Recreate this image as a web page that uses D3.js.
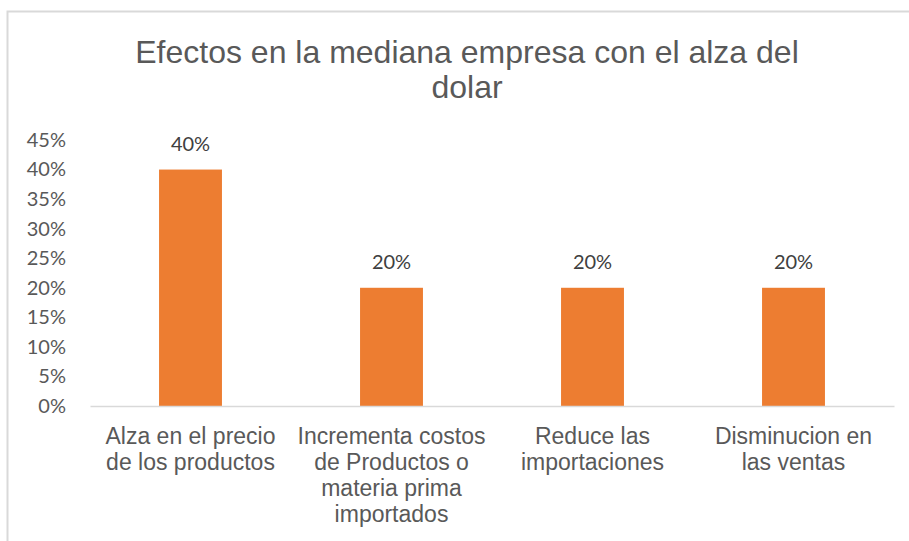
<!DOCTYPE html>
<html>
<head>
<meta charset="utf-8">
<script src="https://cdn.jsdelivr.net/npm/d3@7"></script>
<style>
  html, body { margin: 0; padding: 0; background: #fff; }
  svg { display: block; }
</style>
</head>
<body>
<svg id="chart" width="909" height="541"></svg>
<script>
const titleLines = ["Efectos en la mediana empresa con el alza del", "dolar"];
const categories = [
  ["Alza en el precio", "de los productos"],
  ["Incrementa costos", "de Productos o", "materia prima", "importados"],
  ["Reduce las", "importaciones"],
  ["Disminucion en", "las ventas"]
];
const values = [0.40, 0.20, 0.20, 0.20];
const yTicks = [0, 0.05, 0.10, 0.15, 0.20, 0.25, 0.30, 0.35, 0.40, 0.45];

const svg = d3.select("#chart");

// chart border
svg.append("rect")
  .attr("x", 7.5).attr("y", 11.5)
  .attr("width", 920).attr("height", 560)
  .attr("fill", "none").attr("stroke", "#d9d9d9").attr("stroke-width", 2);

const x = d3.scaleBand()
  .domain(d3.range(categories.length))
  .range([90, 894])
  .paddingInner(0.687)
  .paddingOuter(0.3435);

const y = d3.scaleLinear().domain([0, 0.45]).range([406, 140]);

// title
const title = svg.append("text")
  .attr("x", 467).attr("y", 63)
  .attr("text-anchor", "middle")
  .attr("font-family", "'Liberation Sans', Arial, sans-serif")
  .attr("font-size", 32)
  .attr("fill", "#595959");
titleLines.forEach((t, i) => {
  title.append("tspan").attr("x", 467).attr("dy", i === 0 ? 0 : 34.5).text(t);
});

// y axis (labels only)
const yAxis = d3.axisLeft(y).tickValues(yTicks).tickSize(0).tickPadding(0)
  .tickFormat(d3.format(".0%"));
const gy = svg.append("g").attr("transform", "translate(66,0)").call(yAxis);
gy.select(".domain").remove();
gy.selectAll("text")
  .attr("font-family", "Lato, 'Open Sans', sans-serif")
  .attr("font-size", 20)
  .attr("fill", "#595959");

// bars
svg.append("g").selectAll("rect")
  .data(values)
  .join("rect")
  .attr("x", (d, i) => x(i))
  .attr("y", d => y(d))
  .attr("width", x.bandwidth())
  .attr("height", d => y(0) - y(d))
  .attr("fill", "#ED7D31");

// x axis baseline
const xAxis = d3.axisBottom(x).tickSize(0).tickFormat(() => "");
const gx = svg.append("g").attr("transform", `translate(0,${y(0)})`).call(xAxis);
gx.select(".domain").attr("stroke", "#d9d9d9").attr("stroke-width", 1.5);

// category labels
const labels = svg.append("g").selectAll("text")
  .data(categories)
  .join("text")
  .attr("text-anchor", "middle")
  .attr("font-family", "'Liberation Sans', Arial, sans-serif")
  .attr("font-size", 23)
  .attr("fill", "#595959")
  .attr("y", 443.5);
labels.each(function(lines, i) {
  const cx = x(i) + x.bandwidth() / 2;
  d3.select(this).selectAll("tspan")
    .data(lines)
    .join("tspan")
    .attr("x", cx)
    .attr("dy", (d, j) => j === 0 ? 0 : 26.2)
    .text(d => d);
});

// data labels
svg.append("g").selectAll("text")
  .data(values)
  .join("text")
  .attr("x", (d, i) => x(i) + x.bandwidth() / 2)
  .attr("y", d => y(d) - 19)
  .attr("text-anchor", "middle")
  .attr("font-family", "Lato, 'Open Sans', sans-serif")
  .attr("font-size", 20)
  .attr("fill", "#404040")
  .text(d => d3.format(".0%")(d));
</script>
</body>
</html>
